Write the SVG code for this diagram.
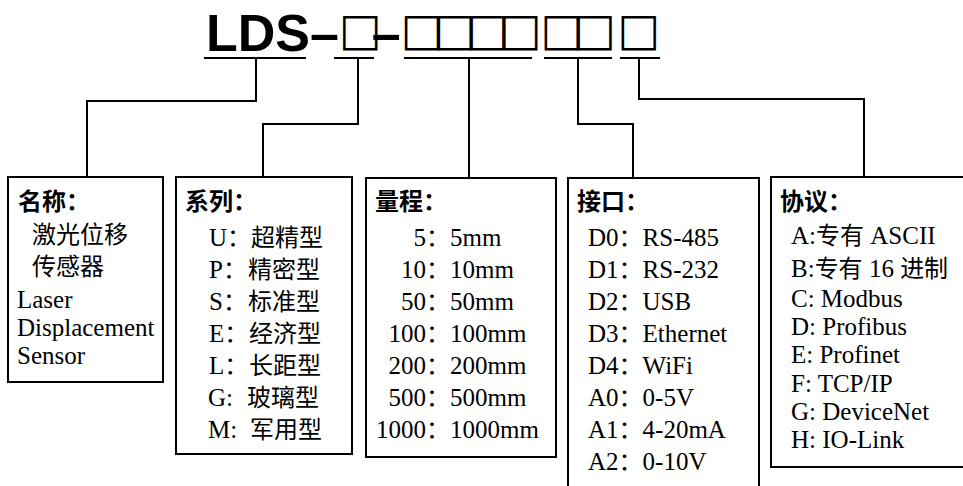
<svg xmlns="http://www.w3.org/2000/svg" width="963" height="486" viewBox="0 0 963 486">
<style>
  .t { font-family: "Liberation Serif", "Times New Roman", "Noto Sans CJK SC", serif; font-size: 25px; fill: #000; }
  .h { font-family: "Liberation Serif", "Times New Roman", "Noto Sans CJK SC", serif; font-size: 24px; font-weight: bold; fill: #000; }
  .cj { font-family: "Noto Sans CJK SC", sans-serif; font-size: 24px; }
  .title { font-family: "Liberation Sans", Arial, "DejaVu Sans", sans-serif; font-size: 52px; font-weight: bold; fill: #000; }
  .sq { font-family: "DejaVu Sans", sans-serif; font-size: 45px; font-weight: bold; letter-spacing: -9.7px; }
  .box { fill: none; stroke: #000; stroke-width: 2; }
  .ln { fill: none; stroke: #000; stroke-width: 2; }
</style>
<rect width="963" height="486" fill="#fff"/>

<g id="title">
  <text class="title" x="206" y="51">LDS–<tspan class="sq" y="45">□</tspan><tspan y="51">–</tspan><tspan class="sq" y="45">□□□□ </tspan><tspan class="sq" x="540.4" y="45">□□ </tspan><tspan class="sq" x="617.4" y="45">□</tspan></text>
</g>

<g id="connectors">
  <path class="ln" d="M204,58 H306 M334,58 H374 M404,58 H532 M544,58 H612 M620,58 H660"/>
  <path class="ln" d="M256,58 V101 H87 V177"/>
  <path class="ln" d="M358,58 V124 H263 V177"/>
  <path class="ln" d="M469,58 V178"/>
  <path class="ln" d="M578,58 V124 H633 V178"/>
  <path class="ln" d="M639,58 V99 H864 V177"/>
</g>

<g id="node-name">
  <rect class="box" x="8" y="177" width="155" height="205"/>
  <text class="h" x="18" y="210">名称：</text>
  <text class="t cj" x="32" y="243">激光位移</text>
  <text class="t cj" x="32" y="275">传感器</text>
  <text class="t" x="17" y="308">Laser</text>
  <text class="t" x="17" y="336">Displacement</text>
  <text class="t" x="17" y="364">Sensor</text>
</g>

<g id="node-series">
  <rect class="box" x="176" y="177" width="176" height="277"/>
  <text class="h" x="185" y="210">系列：</text>
  <text class="t"><tspan x="209" y="246">U<tspan class="cj">：</tspan></tspan><tspan x="251" class="cj">超精型</tspan></text>
  <text class="t"><tspan x="209" y="278">P<tspan class="cj">：</tspan></tspan><tspan x="248" class="cj">精密型</tspan></text>
  <text class="t"><tspan x="209" y="310">S<tspan class="cj">：</tspan></tspan><tspan x="248" class="cj">标准型</tspan></text>
  <text class="t"><tspan x="209" y="342">E<tspan class="cj">：</tspan></tspan><tspan x="249" class="cj">经济型</tspan></text>
  <text class="t"><tspan x="209" y="374">L<tspan class="cj">：</tspan></tspan><tspan x="249" class="cj">长距型</tspan></text>
  <text class="t"><tspan x="208" y="406">G: </tspan><tspan x="247" class="cj">玻璃型</tspan></text>
  <text class="t"><tspan x="208" y="438">M: </tspan><tspan x="250" class="cj">军用型</tspan></text>
</g>

<g id="node-range">
  <rect class="box" x="366" y="178" width="190" height="279"/>
  <text class="h" x="375" y="210">量程：</text>
  <text class="t"><tspan x="426" y="246" text-anchor="end">5</tspan><tspan x="426"><tspan class="cj">：</tspan>5mm</tspan></text>
  <text class="t"><tspan x="426" y="278" text-anchor="end">10</tspan><tspan x="426"><tspan class="cj">：</tspan>10mm</tspan></text>
  <text class="t"><tspan x="426" y="310" text-anchor="end">50</tspan><tspan x="426"><tspan class="cj">：</tspan>50mm</tspan></text>
  <text class="t"><tspan x="426" y="342" text-anchor="end">100</tspan><tspan x="426"><tspan class="cj">：</tspan>100mm</tspan></text>
  <text class="t"><tspan x="426" y="374" text-anchor="end">200</tspan><tspan x="426"><tspan class="cj">：</tspan>200mm</tspan></text>
  <text class="t"><tspan x="426" y="406" text-anchor="end">500</tspan><tspan x="426"><tspan class="cj">：</tspan>500mm</tspan></text>
  <text class="t"><tspan x="426" y="438" text-anchor="end">1000</tspan><tspan x="426"><tspan class="cj">：</tspan>1000mm</tspan></text>
</g>

<g id="node-interface">
  <rect class="box" x="568" y="178" width="191" height="330"/>
  <text class="h" x="577" y="210">接口：</text>
  <text class="t" x="588" y="246">D0<tspan class="cj">：</tspan>RS-485</text>
  <text class="t" x="588" y="278">D1<tspan class="cj">：</tspan>RS-232</text>
  <text class="t" x="588" y="310">D2<tspan class="cj">：</tspan>USB</text>
  <text class="t" x="588" y="342">D3<tspan class="cj">：</tspan>Ethernet</text>
  <text class="t" x="588" y="374">D4<tspan class="cj">：</tspan>WiFi</text>
  <text class="t" x="588" y="406">A0<tspan class="cj">：</tspan>0-5V</text>
  <text class="t" x="588" y="438">A1<tspan class="cj">：</tspan>4-20mA</text>
  <text class="t" x="588" y="470">A2<tspan class="cj">：</tspan>0-10V</text>
</g>

<g id="node-protocol">
  <rect class="box" x="771" y="177" width="230" height="290"/>
  <text class="h" x="780" y="210">协议：</text>
  <text class="t" x="791" y="244">A:<tspan class="cj">专有</tspan> ASCII</text>
  <text class="t" x="791" y="277">B:<tspan class="cj">专有</tspan> 16 <tspan class="cj">进制</tspan></text>
  <text class="t" x="791" y="307">C: Modbus</text>
  <text class="t" x="791" y="335">D: Profibus</text>
  <text class="t" x="791" y="363">E: Profinet</text>
  <text class="t" x="791" y="392">F: TCP/IP</text>
  <text class="t" x="791" y="420">G: DeviceNet</text>
  <text class="t" x="791" y="448">H: IO-Link</text>
</g>
</svg>
